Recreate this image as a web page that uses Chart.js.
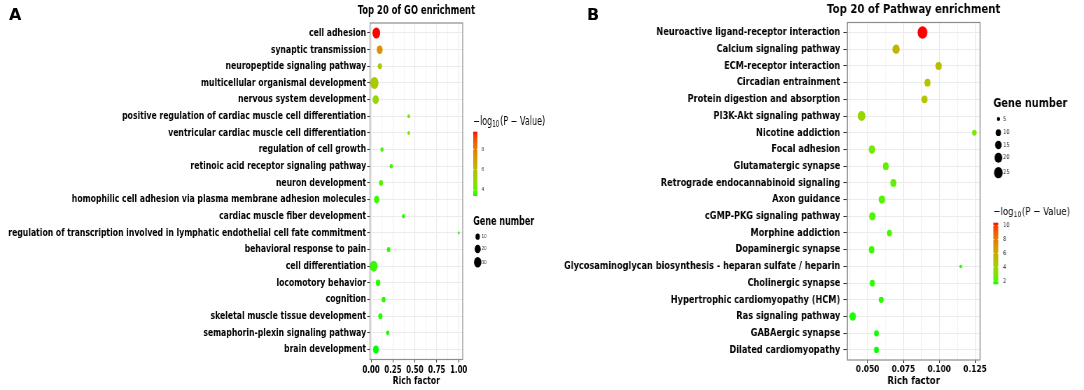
<!DOCTYPE html>
<html>
<head>
<meta charset="utf-8">
<script src="https://cdn.jsdelivr.net/npm/chart.js@4.4.1/dist/chart.umd.min.js"></script>
<style>
  body { margin: 0; background: #fff; }
  #wrap { position: relative; width: 1084px; height: 390px; overflow: hidden; background: #fff; }
  canvas { position: absolute; top: 0; transform-origin: 0 0; }
  .tag { position: absolute; font: bold 16px "DejaVu Sans", sans-serif; line-height: 16px; color: #000; }
</style>
</head>
<body>
<div id="wrap">
  <canvas id="goChart" width="800" height="390" style="left:0; transform: scaleX(0.7);"></canvas>
  <canvas id="keggChart" width="672" height="390" style="left:560px; transform: scaleX(0.78);"></canvas>
  <div class="tag" style="left:9px; top:7px;">A</div>
  <div class="tag" style="left:587px; top:7px;">B</div>
</div>
<script>
var labelsA = ['cell adhesion', 'synaptic transmission', 'neuropeptide signaling pathway',
    'multicellular organismal development', 'nervous system development',
    'positive regulation of cardiac muscle cell differentiation',
    'ventricular cardiac muscle cell differentiation', 'regulation of cell growth',
    'retinoic acid receptor signaling pathway', 'neuron development',
    'homophilic cell adhesion via plasma membrane adhesion molecules',
    'cardiac muscle fiber development',
    'regulation of transcription involved in lymphatic endothelial cell fate commitment',
    'behavioral response to pain', 'cell differentiation', 'locomotory behavior', 'cognition',
    'skeletal muscle tissue development', 'semaphorin-plexin signaling pathway', 'brain development'];
var richA = [0.06, 0.098, 0.1, 0.038, 0.053, 0.43, 0.43, 0.125, 0.23, 0.113,
    0.064, 0.37, 1.0, 0.2, 0.03, 0.08, 0.143, 0.106, 0.19, 0.055];
var genesA = [33, 19, 9, 38, 21, 3, 3, 5, 5, 8, 15, 4, 1, 6, 33, 11, 8, 9, 5, 17];
var logPA = [9.73, 7.4, 5.4, 5.5, 4.9, 4.2, 4.2, 3.7, 3.6, 3.8, 3.6, 3.5, 3.5, 3.5, 3.6, 3.5, 3.5, 3.5, 3.45, 3.41];
var xTicksA = [0, 0.25, 0.5, 0.75, 1.0];
var sizeBreaksA = [10, 20, 30];
var colorBreaksA = [4, 6, 8];

var labelsB = ['Neuroactive ligand-receptor interaction', 'Calcium signaling pathway',
    'ECM-receptor interaction', 'Circadian entrainment', 'Protein digestion and absorption',
    'PI3K-Akt signaling pathway', 'Nicotine addiction', 'Focal adhesion', 'Glutamatergic synapse',
    'Retrograde endocannabinoid signaling', 'Axon guidance', 'cGMP-PKG signaling pathway',
    'Morphine addiction', 'Dopaminergic synapse',
    'Glycosaminoglycan biosynthesis - heparan sulfate / heparin', 'Cholinergic synapse',
    'Hypertrophic cardiomyopathy (HCM)', 'Ras signaling pathway', 'GABAergic synapse',
    'Dilated cardiomyopathy'];
var richB = [0.0883, 0.0699, 0.0996, 0.0918, 0.0897, 0.0458, 0.1245, 0.053, 0.0627, 0.068,
    0.060, 0.0533, 0.0652, 0.0528, 0.115, 0.0533, 0.0595, 0.0396, 0.0562, 0.0562];
var genesB = [31, 18, 14, 13, 13, 20, 8, 15, 13, 13, 14, 14, 10, 12, 4, 10, 9, 15, 9, 9];
var logPB = [10.43, 5.5, 5.1, 4.8, 4.6, 3.8, 3.0, 2.6, 2.4, 2.3, 2.1, 2.0, 1.9, 1.8, 1.7, 1.7, 1.65, 1.6, 1.55, 1.52];
var xTicksB = [0.05, 0.075, 0.1, 0.125];
var sizeBreaksB = [5, 10, 15, 20, 25];
var colorBreaksB = [2, 4, 6, 8, 10];

var FONT = '"DejaVu Sans", sans-serif';

// green -> red, interpolated in Lab like ggplot's scale_colour_gradient
function toLab(hex) {
    var c = [1, 3, 5].map(function (i) {
        var v = parseInt(hex.substr(i, 2), 16) / 255;
        return v <= 0.04045 ? v / 12.92 : Math.pow((v + 0.055) / 1.055, 2.4);
    });
    var x = (c[0] * 0.4124 + c[1] * 0.3576 + c[2] * 0.1805) / 0.95047;
    var y = c[0] * 0.2126 + c[1] * 0.7152 + c[2] * 0.0722;
    var z = (c[0] * 0.0193 + c[1] * 0.1192 + c[2] * 0.9505) / 1.08883;
    var f = function (t) { return t > 0.008856 ? Math.cbrt(t) : 7.787 * t + 16 / 116; };
    return [116 * f(y) - 16, 500 * (f(x) - f(y)), 200 * (f(y) - f(z))];
}
function labToCss(L, a, b) {
    var fy = (L + 16) / 116, fx = fy + a / 500, fz = fy - b / 200;
    var inv = function (t) { return t * t * t > 0.008856 ? t * t * t : (t - 16 / 116) / 7.787; };
    var x = inv(fx) * 0.95047, y = inv(fy), z = inv(fz) * 1.08883;
    var rgb = [x * 3.2406 - y * 1.5372 - z * 0.4986,
        -x * 0.9689 + y * 1.8758 + z * 0.0415,
        x * 0.0557 - y * 0.2040 + z * 1.0570].map(function (v) {
        v = v <= 0.0031308 ? 12.92 * v : 1.055 * Math.pow(v, 1 / 2.4) - 0.055;
        return Math.round(Math.min(1, Math.max(0, v)) * 255);
    });
    return 'rgb(' + rgb.join(',') + ')';
}
var LOW = toLab('#00FF00'), HIGH = toLab('#FF0000');
function gradient(t) {
    t = Math.min(1, Math.max(0, t));
    return labToCss(LOW[0] + (HIGH[0] - LOW[0]) * t, LOW[1] + (HIGH[1] - LOW[1]) * t, LOW[2] + (HIGH[2] - LOW[2]) * t);
}

function near(v, list) {
    return list.some(function (m) { return Math.abs(v - m) < 1e-6; });
}

function legendPlugin(p) {
    return {
        id: 'ggExtras',
        afterDraw: function (chart) {
            var ctx = chart.ctx, a = chart.chartArea, L = p.legend;
            ctx.save();
            // panel border
            ctx.strokeStyle = '#8c8c8c';
            ctx.lineWidth = 1.2;
            ctx.strokeRect(a.left, a.top, a.right - a.left, a.bottom - a.top);

            // title, centred over the panel (not squeezed to its width)
            ctx.fillStyle = '#000';
            ctx.textBaseline = 'middle';
            ctx.textAlign = 'center';
            ctx.font = 'bold ' + p.titleSize + 'px ' + FONT;
            ctx.fillText(p.title, (a.left + a.right) / 2, p.titleY);

            // colour bar title  -log10(P - Value)
            ctx.textAlign = 'left';
            var fs = L.cTitleSize, tx = L.x;
            ctx.font = fs + 'px ' + FONT;
            ctx.fillText('\u2212log', tx, L.cTitleY);
            tx += ctx.measureText('\u2212log').width;
            ctx.font = (fs * 0.7) + 'px ' + FONT;
            ctx.fillText('10', tx, L.cTitleY + fs * 0.32);
            tx += ctx.measureText('10').width + 1;
            ctx.font = fs + 'px ' + FONT;
            ctx.fillText('(P \u2212 Value)', tx, L.cTitleY);

            // colour bar
            var lo = Math.min.apply(null, p.logP), hi = Math.max.apply(null, p.logP);
            var g = ctx.createLinearGradient(0, L.barBottom, 0, L.barTop);
            for (var i = 0; i <= 20; i++) g.addColorStop(i / 20, gradient(i / 20));
            ctx.fillStyle = g;
            ctx.fillRect(L.x, L.barTop, L.barW, L.barBottom - L.barTop);
            ctx.font = L.smallSize + 'px ' + FONT;
            p.colorBreaks.forEach(function (b) {
                var y = L.barBottom - (b - lo) / (hi - lo) * (L.barBottom - L.barTop);
                ctx.strokeStyle = '#fff';
                ctx.lineWidth = 0.8;
                ctx.beginPath();
                ctx.moveTo(L.x, y); ctx.lineTo(L.x + L.barW * 0.2, y);
                ctx.moveTo(L.x + L.barW * 0.8, y); ctx.lineTo(L.x + L.barW, y);
                ctx.stroke();
                ctx.fillStyle = '#222';
                ctx.fillText(String(b), L.labelX, y);
            });

            // gene number legend
            ctx.fillStyle = '#000';
            ctx.font = 'bold ' + L.sTitleSize + 'px ' + FONT;
            ctx.fillText('Gene number', L.x, L.sTitleY);
            ctx.font = L.smallSize + 'px ' + FONT;
            p.sizeBreaks.forEach(function (n, k) {
                var y = L.sKeysY[k];
                ctx.fillStyle = '#000';
                ctx.beginPath();
                ctx.arc(L.dotX, y, p.radius(n), 0, Math.PI * 2);
                ctx.fill();
                ctx.fillStyle = '#222';
                ctx.fillText(String(n), L.labelX, y);
            });
            ctx.restore();
        }
    };
}

function makePanel(id, p) {
    var points = p.rich.map(function (v, i) { return { x: v, y: i }; });
    var radii = p.genes.map(p.radius);
    var lo = Math.min.apply(null, p.logP), hi = Math.max.apply(null, p.logP);
    return new Chart(document.getElementById(id), {
        type: 'scatter',
        data: {
            datasets: [{
                data: points,
                pointRadius: radii,
                pointHoverRadius: radii,
                pointBackgroundColor: p.logP.map(function (v) { return gradient((v - lo) / (hi - lo)); }),
                pointBorderWidth: 0
            }]
        },
        options: {
            responsive: false,
            animation: false,
            devicePixelRatio: 1,
            events: [],
            layout: { padding: { left: 0, right: p.padRight, top: p.padTop, bottom: 0 } },
            plugins: {
                legend: { display: false },
                tooltip: { enabled: false },
                title: { display: false }
            },
            scales: {
                x: {
                    type: 'linear',
                    min: p.xMin,
                    max: p.xMax,
                    border: { display: false },
                    grid: {
                        color: '#EBEBEB',
                        lineWidth: function (c) { return c.tick && near(c.tick.value, p.xTicks) ? 1.1 : 0.6; },
                        tickLength: 3,
                        tickWidth: 1,
                        tickColor: function (c) { return c.tick && near(c.tick.value, p.xTicks) ? '#333' : 'rgba(0,0,0,0)'; }
                    },
                    ticks: {
                        stepSize: p.step,
                        includeBounds: false,
                        autoSkip: false,
                        maxRotation: 0,
                        color: '#000',
                        padding: p.xTickPad,
                        font: { family: FONT, size: p.xTickSize, weight: 'bold', lineHeight: 1.2 },
                        callback: function (v) { return near(v, p.xTicks) ? v.toFixed(p.digits) : ''; }
                    },
                    title: {
                        display: true,
                        text: 'Rich factor',
                        color: '#000',
                        font: { family: FONT, size: 11, weight: 'bold', lineHeight: 1.2 },
                        padding: { top: 0, bottom: 2.4 }
                    },
                    afterFit: function (s) { s.height = p.xAxisH; }
                },
                y: {
                    type: 'linear',
                    reverse: true,
                    min: -0.6,
                    max: p.labels.length - 0.4,
                    border: { display: false },
                    grid: { color: '#EBEBEB', lineWidth: 1.1, tickLength: p.yTickLen, tickColor: '#333', tickWidth: 1 },
                    ticks: {
                        stepSize: 1,
                        includeBounds: false,
                        autoSkip: false,
                        color: '#000',
                        padding: p.yTickPad,
                        font: { family: FONT, size: p.yLabelSize, weight: 'bold' },
                        callback: function (v) { return p.labels[v]; }
                    },
                    afterFit: function (s) { s.width = p.yAxisW; }
                }
            }
        },
        plugins: [legendPlugin(p)]
    });
}

makePanel('goChart', {
    title: 'Top 20 of GO enrichment', titleSize: 12, titleY: 10.5, padTop: 23,
    labels: labelsA, rich: richA, genes: genesA, logP: logPA,
    xTicks: xTicksA, step: 0.125, digits: 2, xMin: -0.012, xMax: 1.046,
    xTickSize: 10, xTickPad: 1.5, xAxisH: 30.5,
    yLabelSize: 11, yTickLen: 4, yTickPad: 1.5, yAxisW: 528.6, padRight: 139,
    radius: function (n) { return Math.sqrt(2 + (n - 1) * 0.89); },
    sizeBreaks: sizeBreaksA, colorBreaks: colorBreaksA,
    legend: {
        x: 676, barW: 6, barTop: 131.7, barBottom: 196, labelX: 688, dotX: 682.4,
        cTitleY: 121.7, cTitleSize: 11.5, sTitleY: 221.7, sTitleSize: 11.5,
        sKeysY: [236.7, 249, 262.3], smallSize: 5.5
    }
});

makePanel('keggChart', {
    title: 'Top 20 of Pathway enrichment', titleSize: 13, titleY: 9.5, padTop: 22.5,
    labels: labelsB, rich: richB, genes: genesB, logP: logPB,
    xTicks: xTicksB, step: 0.0125, digits: 3, xMin: 0.0358, xMax: 0.1285,
    xTickSize: 9.5, xTickPad: 0.6, xAxisH: 30,
    yLabelSize: 10.5, yTickLen: 5, yTickPad: 4, yAxisW: 368.3, padRight: 133.5,
    radius: function (n) { return Math.sqrt(Math.max(1.3, 1.33 * n - 2.15)); },
    sizeBreaks: sizeBreaksB, colorBreaks: colorBreaksB,
    legend: {
        x: 555.5, barW: 6.4, barTop: 222.7, barBottom: 284.3, labelX: 568, dotX: 562,
        cTitleY: 211.7, cTitleSize: 11, sTitleY: 104, sTitleSize: 12.5,
        sKeysY: [119, 132.7, 145, 157.7, 172.7], smallSize: 6.5
    }
});
</script>
</body>
</html>
